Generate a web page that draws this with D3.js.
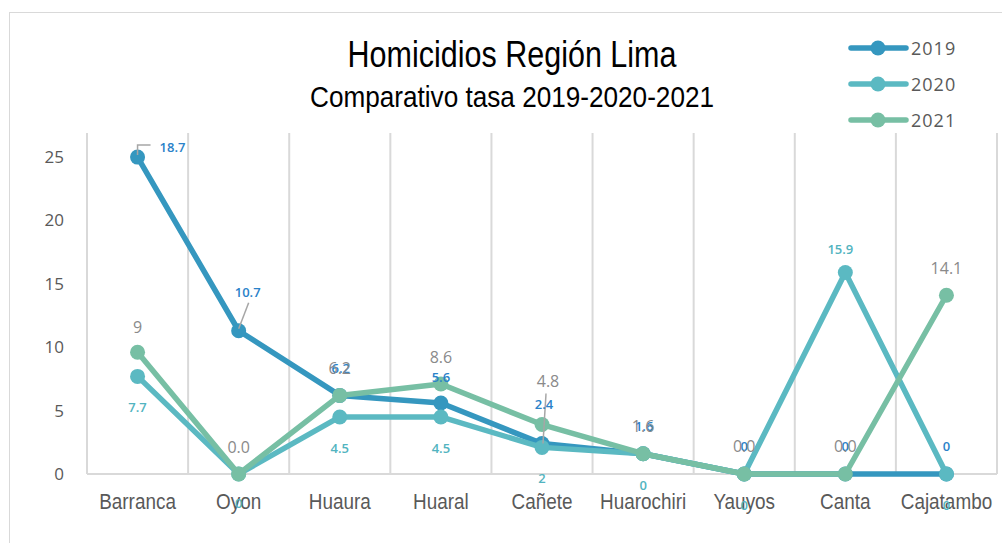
<!DOCTYPE html>
<html>
<head>
<meta charset="utf-8">
<script src="https://cdn.jsdelivr.net/npm/d3@7"></script>
<style>
  body { margin: 0; background: #fff; }
  svg { display: block; }
</style>
</head>
<body>
<div class="canvas"></div>
<script>
var W = 1002, H = 543;

var categories = ["Barranca", "Oyon", "Huaura", "Huaral", "Cañete", "Huarochiri", "Yauyos", "Canta", "Cajatambo"];
var years = ["2019", "2020", "2021"];
var values_2019 = [25.0, 11.3, 6.2, 5.6, 2.4, 1.6, 0, 0, 0];
var values_2020 = [7.7, 0, 4.5, 4.5, 2.1, 1.6, 0, 15.9, 0];
var values_2021 = [9.6, 0, 6.2, 7.1, 3.9, 1.6, 0, 0, 14.1];
// the labels as they stand in the picture (not always equal to the point)
var labels_2019 = ["18.7", "10.7", "6.2", "5.6", "2.4", "1.6", "0", "0", "0"];
var labels_2020 = ["7.7", "0", "4.5", "4.5", "2", "0", "0", "15.9", "0"];
var labels_2021 = ["9", "0.0", "6.2", "8.6", "4.8", "1.6", "0.0", "0.0", "14.1"];
var y_ticks = [0, 5, 10, 15, 20, 25];

var colors = {"2019": "#3597bf", "2020": "#5bb9c2", "2021": "#77bfa4"};
var label_cols = {"2019": "#2a82c9", "2020": "#52b4c0", "2021": "#8a8a8a"};
var label_size = {"2019": 13, "2020": 13, "2021": 16};

// label offsets from the point, px
var offs = {
  "2019": [[35, -10], [9, -39], [1, -27], [0, -26], [2, -40], [1, -28], [0, -28], [0, -28], [0, -28]],
  "2020": [[0, 31], [0, 29], [0, 31], [0, 31], [0, 31], [0, 31], [0, 31], [-5, -23], [0, 31]],
  "2021": [[0, -25], [0, -27], [0, -27], [0, -27], [6, -44], [0, -28], [0, -28], [0, -28], [0, -27]]
};

var narrow = "'Liberation Sans', Arial, sans-serif";

var svg = d3.select("div.canvas").append("svg").attr("width", W).attr("height", H);

// chart frame
svg.append("rect").attr("x", 9.5).attr("y", 12.5).attr("width", 1010).attr("height", 560)
  .attr("fill", "none").attr("stroke", "#d9d9d9").attr("stroke-width", 1);

var x = d3.scaleBand().domain(categories).range([87, 997]);
var y = d3.scaleLinear().domain([0, 26.9]).range([474, 133]);
function cx(c) { return x(c) + x.bandwidth() / 2; }

// vertical gridlines between categories
var bounds = categories.map(function(c) { return x(c); }).concat([x.range()[1]]);
svg.append("g").selectAll("line").data(bounds).join("line")
  .attr("x1", function(d) { return d; }).attr("x2", function(d) { return d; })
  .attr("y1", y.range()[1]).attr("y2", y(0))
  .attr("stroke", "#d9d9d9").attr("stroke-width", 2);
svg.append("line").attr("x1", 87).attr("x2", 997).attr("y1", y(0)).attr("y2", y(0))
  .attr("stroke", "#d9d9d9").attr("stroke-width", 2);

// y axis
var yAxis = d3.axisLeft(y).tickValues(y_ticks).tickSize(0).tickPadding(0);
var gy = svg.append("g").attr("transform", "translate(64,0)").call(yAxis);
gy.select(".domain").remove();
gy.selectAll("text").attr("font-family", "'Open Sans', sans-serif").attr("font-size", 17)
  .attr("fill", "#595959");

// x axis labels, squeezed a bit like a narrow face
var xAxis = d3.axisBottom(x).tickSize(0).tickPadding(0);
var gx = svg.append("g").attr("transform", "translate(0,493)").call(xAxis);
gx.select(".domain").remove();
gx.selectAll("text").attr("font-family", narrow)
  .attr("font-size", 22).attr("fill", "#595959")
  .attr("transform", "scale(0.86,1)");

// series
var series = [
  {year: "2019", vals: values_2019, labels: labels_2019},
  {year: "2020", vals: values_2020, labels: labels_2020},
  {year: "2021", vals: values_2021, labels: labels_2021}
];

var line = d3.line()
  .x(function(d, i) { return cx(categories[i]); })
  .y(function(d) { return y(d); });

series.forEach(function(s) {
  var g = svg.append("g");
  g.append("path").attr("d", line(s.vals)).attr("fill", "none")
    .attr("stroke", colors[s.year]).attr("stroke-width", 5.5)
    .attr("stroke-linejoin", "round").attr("stroke-linecap", "round");
  g.selectAll("circle").data(s.vals).join("circle")
    .attr("cx", function(d, i) { return cx(categories[i]); })
    .attr("cy", function(d) { return y(d); })
    .attr("r", 7.5).attr("fill", colors[s.year]);
});

// leader lines
var lc = "#a6a6a6";
var p0 = [cx(categories[0]), y(values_2019[0])];
svg.append("path").attr("d", "M" + p0[0] + "," + (p0[1] - 2) + "V" + (p0[1] - 12) + "H" + (p0[0] + 13))
  .attr("fill", "none").attr("stroke", lc).attr("stroke-width", 1.5);
var p1 = [cx(categories[1]), y(values_2019[1])];
svg.append("line").attr("x1", p1[0]).attr("y1", p1[1] - 2).attr("x2", p1[0] + 10).attr("y2", p1[1] - 28)
  .attr("stroke", lc).attr("stroke-width", 1.5);
var p4 = [cx(categories[4]), y(values_2019[4])];
svg.append("line").attr("x1", p4[0] + 1).attr("y1", p4[1]).attr("x2", p4[0] + 4).attr("y2", p4[1] - 50)
  .attr("stroke", lc).attr("stroke-width", 1.5);

// data labels
series.forEach(function(s) {
  svg.append("g").selectAll("text").data(s.labels).join("text")
    .attr("x", function(d, i) { return cx(categories[i]) + offs[s.year][i][0]; })
    .attr("y", function(d, i) { return y(s.vals[i]) + offs[s.year][i][1]; })
    .attr("text-anchor", "middle").attr("dominant-baseline", "central")
    .attr("font-family", "'Open Sans', sans-serif")
    .attr("font-size", label_size[s.year])
    .attr("font-weight", s.year == "2021" ? 400 : 600)
    .attr("fill", label_cols[s.year])
    .text(function(d) { return d; });
});

// title
svg.append("text").attr("x", 512).attr("y", 67).attr("text-anchor", "middle")
  .attr("font-family", narrow).attr("font-size", 37).attr("fill", "#000")
  .attr("textLength", 329).attr("lengthAdjust", "spacingAndGlyphs")
  .text("Homicidios Región Lima");
svg.append("text").attr("x", 512).attr("y", 107).attr("text-anchor", "middle")
  .attr("font-family", narrow).attr("font-size", 30).attr("fill", "#000")
  .attr("textLength", 404).attr("lengthAdjust", "spacingAndGlyphs")
  .text("Comparativo tasa 2019-2020-2021");

// legend
var lg = svg.append("g").selectAll("g").data(years).join("g")
  .attr("transform", function(d, i) { return "translate(851," + (48 + i * 36) + ")"; });
lg.append("line").attr("x1", 0).attr("x2", 55).attr("y1", 0).attr("y2", 0)
  .attr("stroke", function(d) { return colors[d]; }).attr("stroke-width", 5.5)
  .attr("stroke-linecap", "round");
lg.append("circle").attr("cx", 27).attr("cy", 0).attr("r", 7.5)
  .attr("fill", function(d) { return colors[d]; });
lg.append("text").attr("x", 60).attr("y", 0).attr("dominant-baseline", "central")
  .attr("font-family", "'Open Sans', sans-serif").attr("font-size", 18)
  .attr("letter-spacing", 1).attr("fill", "#595959")
  .text(function(d) { return d; });
</script>
</body>
</html>
